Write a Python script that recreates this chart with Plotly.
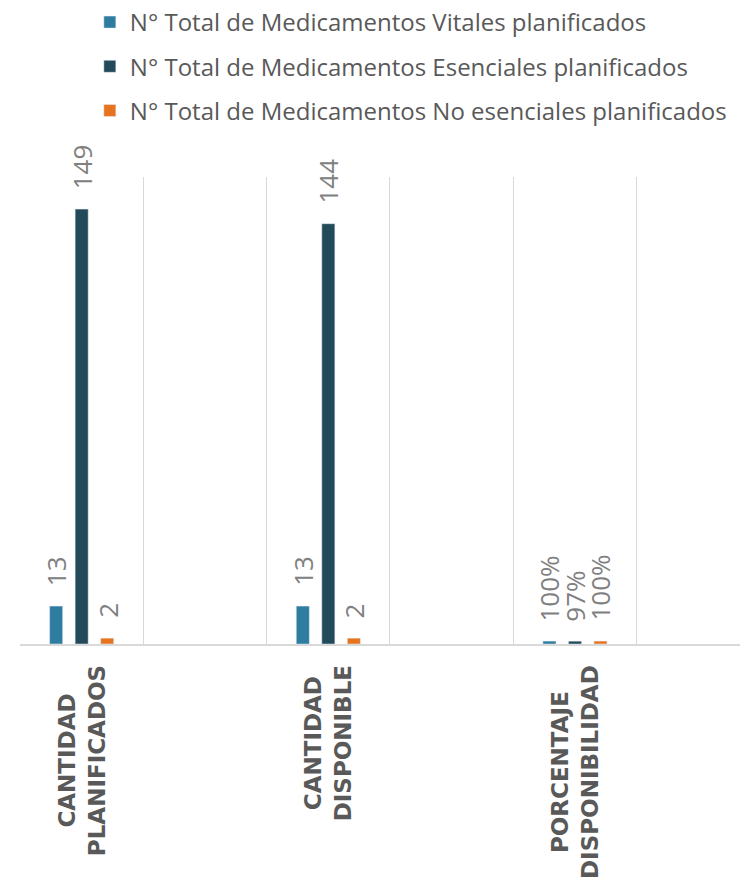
import plotly.graph_objects as go

categories = ["CANTIDAD<br>PLANIFICADOS", "CANTIDAD<br>DISPONIBLE", "PORCENTAJE<br>DISPONIBILIDAD"]
series_names = [
    "N° Total de Medicamentos Vitales planificados",
    "N° Total de Medicamentos Esenciales planificados",
    "N° Total de Medicamentos No esenciales planificados",
]
vitales = [13, 13, 1.00]
esenciales = [149, 144, 0.97]
no_esenciales = [2, 2, 1.00]
label_formats = ["{:.0f}", "{:.0f}", "{:.0%}"]

colors = ["#2E7CA0", "#234A59", "#E8731E"]
series_values = [vitales, esenciales, no_esenciales]

# categories sit on every other slot of the category axis (empty slots between)
x_pos = [2 * i for i in range(len(categories))]
slot_offsets = [-0.207, 0.0, 0.207]
bar_w = 0.106

fig = go.Figure()
annotations = []
for name, vals, col, off in zip(series_names, series_values, colors, slot_offsets):
    fig.add_trace(go.Bar(
        x=x_pos, y=vals, name=name, marker_color=col,
        width=bar_w, offset=off - bar_w / 2,
        legendgroup=name,
    ))
    for xp, v, fmt in zip(x_pos, vals, label_formats):
        annotations.append(dict(
            x=xp + off, y=v, xref="x", yref="y",
            text=fmt.format(v), textangle=-90, showarrow=False,
            xanchor="center", yanchor="bottom", yshift=18,
            font=dict(family="Open Sans", size=26, color="#808080"),
        ))

for xp, cat in zip(x_pos, categories):
    annotations.append(dict(
        x=xp, y=0, xref="x", yref="paper",
        text=cat, textangle=-90, showarrow=False,
        xanchor="center", yanchor="top", yshift=-19, align="center",
        font=dict(family="DejaVu Sans", size=23, color="#595959", weight="bold"),
    ))

fig.update_layout(
    width=740, height=886,
    margin=dict(l=20, r=0, t=175, b=242),
    paper_bgcolor="white", plot_bgcolor="white",
    barmode="group",
    showlegend=True,
    legend=dict(
        x=0.097, y=1.38, xanchor="left", yanchor="top",
        font=dict(family="Open Sans", size=24, color="#595959"),
        traceorder="grouped", tracegroupgap=10,
        bgcolor="rgba(0,0,0,0)",
    ),
    xaxis=dict(
        type="linear", range=[-0.5, 5.338],
        tickvals=[-0.5, 0.5, 1.5, 2.5, 3.5, 4.5, 5.5],
        showticklabels=False, ticks="",
        showgrid=True, gridcolor="#D9D9D9", gridwidth=1,
        showline=True, linecolor="#D9D9D9", linewidth=1.5,
        zeroline=False,
    ),
    yaxis=dict(
        range=[0, 160], showgrid=False, showticklabels=False,
        zeroline=False, showline=False, ticks="",
    ),
    annotations=annotations,
)

fig.write_html(
    "out.html",
    config={"displayModeBar": False},
    post_script="document.body.style.margin='0px';",
)
